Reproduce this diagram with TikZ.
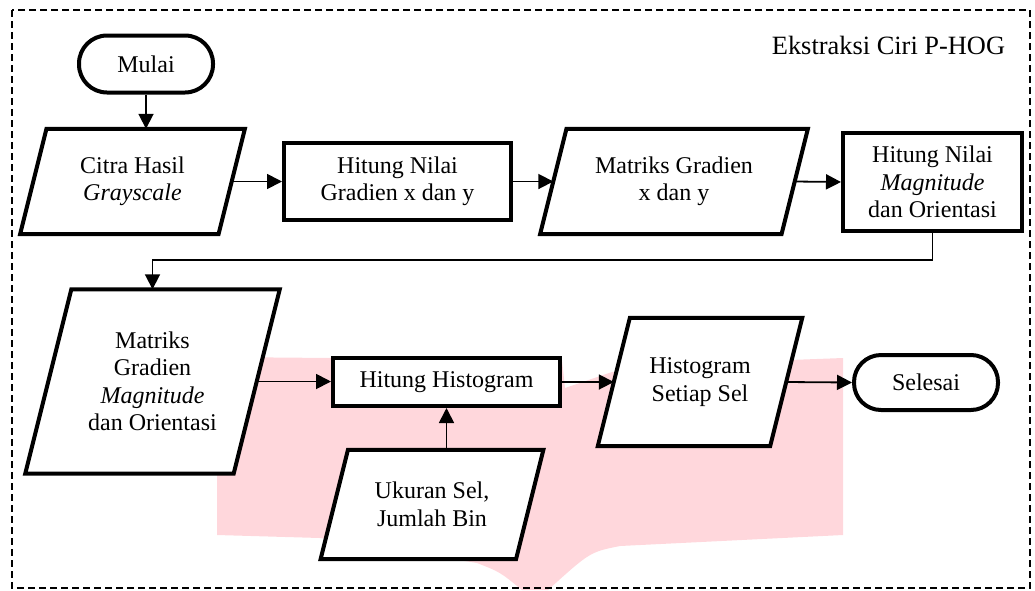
\documentclass[tikz,border=0pt]{standalone}
\usepackage{fontspec}
\setmainfont{Liberation Serif}
\usetikzlibrary{calc,arrows.meta}
\pgfdeclarelayer{wm}
\pgfdeclarelayer{bg}
\pgfsetlayers{wm,bg,main}
\definecolor{wmpink}{RGB}{255,215,220}
\tikzset{
  txt/.style={font=\fontsize{24}{27.5}\selectfont, align=center, inner sep=0pt},
  procbox/.style={txt, draw, line width=4pt, fill=white},
  termbox/.style={txt, draw, line width=4pt, fill=white},
  iobox/.style={txt},
  paraline/.style={draw, line width=4pt, fill=white},
  conn/.style={line width=1.8pt, -{Triangle[length=15pt,width=15pt]}},
  frame/.style={line width=1.3pt, dash pattern=on 7pt off 4pt}
}
\newcommand\paraoutline[1]{%
  \begin{pgfonlayer}{bg}
  \path[paraline] let \p1=(#1.north east), \p2=(#1.south west), \n1={(\y1-\y2)/8} in
    (\x2-\n1,\y2) -- (\x1-\n1,\y2) -- (\x1+\n1,\y1) -- (\x2+\n1,\y1) -- cycle;
  \end{pgfonlayer}}
\begin{document}
\begin{tikzpicture}[x=1pt,y=-1pt]
\useasboundingbox (0,0) rectangle (1035,590);
% watermark
\begin{pgfonlayer}{wm}
\fill[wmpink] (217,357) -- (562,360) -- (565,388) -- (612,372) -- (790,360) -- (843,358)
  -- (843,535) -- (620,546) .. controls (590,552) .. (548,590) -- (522,590)
  .. controls (500,572) .. (477,563) -- (320,538) -- (217,535) -- cycle;
\end{pgfonlayer}
% frame
\draw[frame] (12,10) rectangle (1030,588);
\node[txt, font=\fontsize{26.4}{30}\selectfont] (title) at (888.5,45) {Ekstraksi Ciri P-HOG};
% nodes
\node[termbox, minimum width=134pt, minimum height=57pt, rounded corners=28pt] (mulai) at (146,64) {Mulai};
\node[iobox, minimum width=198pt, minimum height=105pt] (citra) at (132.5,181.5) {Citra Hasil\\\textit{Grayscale}};
\node[procbox, minimum width=227pt, minimum height=77pt] (grad) at (397.5,181.5) {Hitung Nilai\\Gradien x dan y};
\node[iobox, minimum width=241pt, minimum height=105pt] (mgxy) at (674,181.5) {Matriks Gradien\\x dan y};
\node[procbox, minimum width=179pt, minimum height=98pt] (mag) at (932.5,182) {Hitung Nilai\\\textit{Magnitude}\\dan Orientasi};
\node[iobox, minimum width=208pt, minimum height=184pt] (mgm) at (152.5,381.5) {Matriks\\Gradien\\\textit{Magnitude}\\dan Orientasi};
\node[procbox, minimum width=227pt, minimum height=48pt] (hist) at (446.5,382) {Hitung Histogram};
\node[iobox, minimum width=172pt, minimum height=128pt] (hss) at (700,382) {Histogram\\Setiap Sel};
\node[termbox, minimum width=144pt, minimum height=55pt, rounded corners=27pt] (selesai) at (926,382.5) {Selesai};
\node[iobox, minimum width=195pt, minimum height=109pt] (ukuran) at (432,504.5) {Ukuran Sel,\\Jumlah Bin};
\paraoutline{citra}
\paraoutline{mgxy}
\paraoutline{mgm}
\paraoutline{hss}
\paraoutline{ukuran}
\coordinate (turn) at (152.5,260);
% connectors
\draw[conn] (mulai.south) -- (mulai.south |- citra.north);
\draw[conn] (citra.east) -- (grad.west);
\draw[conn] (grad.east) -- (mgxy.west);
\draw[conn] (mgxy.east) -- (mag.west);
\draw[conn] (mag.south) |- (turn) -- (mgm.north);
\draw[conn] (mgm.east) -- (mgm.east -| hist.west);
\draw[conn] (hist.east) -- (hss.west);
\draw[conn] (hss.east) -- (selesai.west);
\draw[conn] (hist.south |- ukuran.north) -- (hist.south);
\end{tikzpicture}
\end{document}
